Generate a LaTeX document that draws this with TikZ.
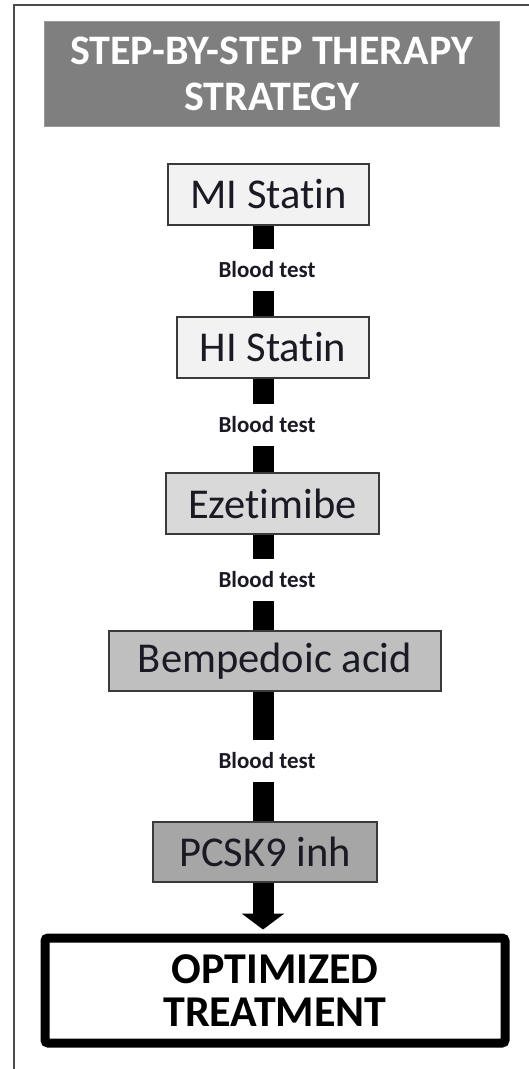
\documentclass[tikz,border=0pt]{standalone}
\usepackage{fontspec}
\setmainfont{Carlito}[Ligatures=NoCommon]
\usetikzlibrary{arrows.meta}
\definecolor{titlegray}{HTML}{7F7F7F}
\definecolor{boxline}{HTML}{3A3A3A}
\definecolor{framegray}{HTML}{4A4A4A}
\definecolor{inktext}{HTML}{1A1A24}
\tikzstyle{every node}=[inner sep=0pt,anchor=center]
\tikzstyle{drug}=[draw=boxline,line width=1.6pt,text=inktext,font=\fontsize{42.5}{48}\selectfont]
\tikzstyle{test}=[text=inktext,font=\bfseries\fontsize{23}{26}\selectfont,minimum height=42pt]
\tikzstyle{bar}=[line width=21pt,black]

\begin{document}
\begin{tikzpicture}[x=1pt,y=-1pt]
  \useasboundingbox (0,0) rectangle (529,1069);
  \draw[framegray,line width=2pt] (13.5,1069) -- (13.5,5) -- (529,5);
  \coordinate (axis) at (263,0);

  \node[fill=titlegray,draw=titlegray!80,minimum width=455pt,minimum height=105pt,
        text=white,align=center,font=\bfseries\fontsize{42}{46}\selectfont]
        (T) at (271.5,73.5) {STEP-BY-STEP THERAPY\\STRATEGY};

  \node[drug,fill=gray!10,minimum width=201pt,minimum height=61pt] (S1) at (268.5,194.5) {MI Statin};
  \node[test] (B1) at (267,270) {Blood test};
  \node[drug,fill=gray!10,minimum width=192pt,minimum height=61pt] (S2) at (273,347.5) {HI Statin};
  \node[test] (B2) at (267,425) {Blood test};
  \node[drug,fill=gray!30,minimum width=213pt,minimum height=61pt] (S3) at (272.5,503.5) {Ezetimibe};
  \node[test] (B3) at (267,580) {Blood test};
  \node[drug,fill=gray!50,minimum width=332pt,minimum height=60pt] (S4) at (275,661) {Bempedoic acid};
  \node[test] (B4) at (267,761) {Blood test};
  \node[drug,fill=gray!70,minimum width=224pt,minimum height=60pt] (S5) at (265,852) {PCSK9 inh};

  \node[draw=black,line width=9pt,rounded corners=3pt,minimum width=460pt,minimum height=105pt,
        align=center,font=\bfseries\fontsize{44}{43}\selectfont]
        (O) at (275,990.5) {OPTIMIZED\\TREATMENT};

  % bars between the steps
  \draw[bar] (axis |- S1.south) -- (axis |- B1.north);
  \draw[bar] (axis |- B1.south) -- (axis |- S2.north);
  \draw[bar] (axis |- S2.south) -- (axis |- B2.north);
  \draw[bar] (axis |- B2.south) -- (axis |- S3.north);
  \draw[bar] (axis |- S3.south) -- (axis |- B3.north);
  \draw[bar] (axis |- B3.south) -- (axis |- S4.north);
  \draw[bar] (axis |- S4.south) -- (axis |- B4.north);
  \draw[bar] (axis |- B4.south) -- (axis |- S5.north);
  \draw[bar,-{Triangle[width=42pt,length=16pt]},shorten >=4pt] (axis |- S5.south) -- (axis |- O.north);
\end{tikzpicture}
\end{document}
